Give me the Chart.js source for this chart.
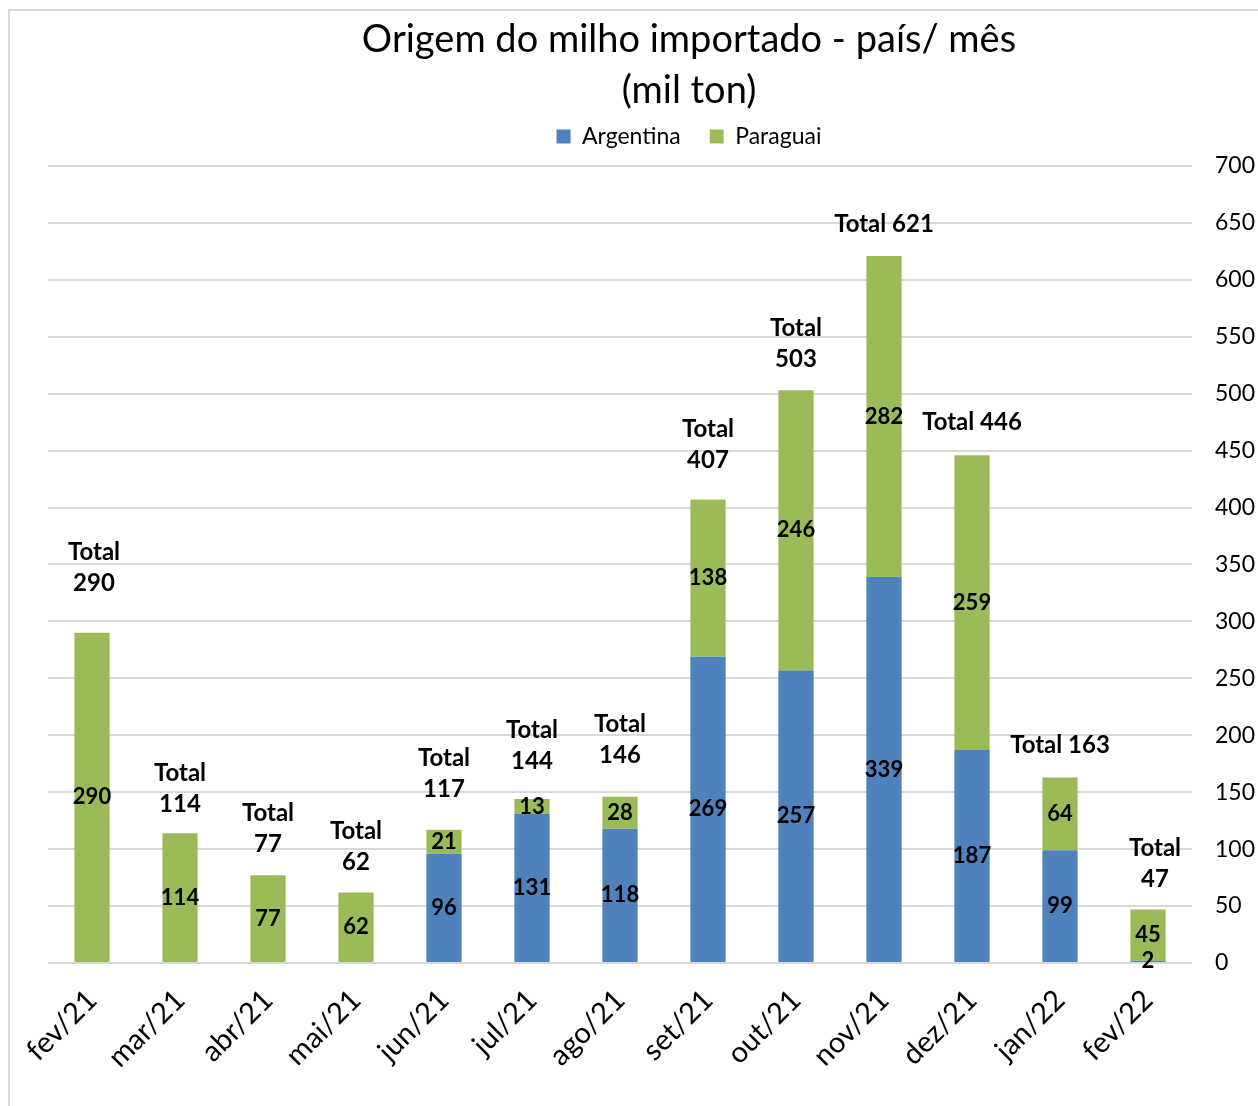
<!DOCTYPE html>
<html>
<head>
<meta charset="utf-8">
<script src="https://cdn.jsdelivr.net/npm/chart.js@4.4.0/dist/chart.umd.min.js"></script>
<style>
  html, body { margin: 0; padding: 0; background: #fff; overflow: hidden; width: 1258px; height: 1106px; }
  #frame { position: absolute; left: 8px; top: 9px; width: 1358px; height: 1200px; border: 2px solid #d9d9d9; }
  #chart { display: block; }
</style>
</head>
<body>
<div id="frame"><canvas id="chart" width="1358" height="1120"></canvas></div>
<script>
const months = ["fev/21", "mar/21", "abr/21", "mai/21", "jun/21", "jul/21", "ago/21", "set/21", "out/21", "nov/21", "dez/21", "jan/22", "fev/22"];
const argentina = [0, 0, 0, 0, 96, 131, 118, 269, 257, 339, 187, 99, 2];
const paraguai = [290, 114, 77, 62, 21, 13, 28, 138, 246, 282, 259, 64, 45];
const yTicks = [0, 50, 100, 150, 200, 250, 300, 350, 400, 450, 500, 550, 600, 650, 700];

const FONT = "Lato, 'Liberation Sans', sans-serif";
Chart.defaults.font.family = FONT;
Chart.defaults.color = "#000";

// where the "Total" labels sit: gap above the bar (px), one or two lines, x nudge
const totalStyle = {
  gap: [50, 29, 31, 30, 41, 38, 42, 39, 31, 32, 33, 32, 30],
  oneLine: [false, false, false, false, false, false, false, false, false, true, true, true, false],
  dx: [2, 0, 0, 0, 0, 0, 0, 0, 0, 0, 0, 0, 7],
  lineGap: 31
};

const labelsPlugin = {
  id: "barLabels",
  afterDatasetsDraw(chart) {
    const ctx = chart.ctx;
    const y = chart.scales.y;
    ctx.save();
    ctx.fillStyle = "#000";
    ctx.textAlign = "center";
    ctx.textBaseline = "middle";
    ctx.font = "bold 22px " + FONT;
    chart.data.datasets.forEach((ds, di) => {
      const meta = chart.getDatasetMeta(di);
      meta.data.forEach((bar, i) => {
        const v = ds.data[i];
        if (!v) return;
        ctx.fillText(String(v), bar.x, (bar.y + bar.base) / 2);
      });
    });
    ctx.font = "bold 24px " + FONT;
    const xMeta = chart.getDatasetMeta(0);
    months.forEach((m, i) => {
      const total = argentina[i] + paraguai[i];
      const top = y.getPixelForValue(total);
      const cx = xMeta.data[i].x + totalStyle.dx[i];
      const cy = top - totalStyle.gap[i];
      if (totalStyle.oneLine[i]) {
        ctx.fillText("Total " + total, cx, cy);
      } else {
        ctx.fillText(String(total), cx, cy);
        ctx.fillText("Total", cx, cy - totalStyle.lineGap);
      }
    });
    ctx.restore();
  }
};

// empty strip between legend and plot area
const legendGap = {
  id: "legendGap",
  beforeInit(chart) {
    Chart.layouts.addBox(chart, {
      position: "top", weight: 500, fullSize: true, options: {},
      top: 0, left: 0, right: 0, bottom: 0, width: 0, height: 0,
      isHorizontal() { return true; },
      update(maxWidth) { this.width = maxWidth; this.height = 8; },
      draw() {}
    });
  }
};

new Chart(document.getElementById("chart"), {
  type: "bar",
  data: {
    labels: months,
    datasets: [
      { label: "Argentina", data: argentina, backgroundColor: "#4f81bd", barPercentage: 0.4, categoryPercentage: 1 },
      { label: "Paraguai", data: paraguai, backgroundColor: "#9bbb59", barPercentage: 0.4, categoryPercentage: 1 }
    ]
  },
  options: {
    responsive: false,
    animation: false,
    layout: { padding: { left: 38, right: 38, top: 0, bottom: 0 } },
    plugins: {
      title: {
        display: true,
        text: ["Origem do milho importado - país/ mês", "(mil ton)"],
        font: { size: 38, weight: "normal", lineHeight: 1.342 },
        color: "#000",
        padding: { top: 3, bottom: -20 }
      },
      legend: {
        position: "top",
        labels: { boxWidth: 14, boxHeight: 14, font: { size: 23 }, color: "#000", padding: 29 }
      },
      tooltip: { enabled: false }
    },
    scales: {
      x: {
        stacked: true,
        grid: { display: false },
        border: { display: false },
        ticks: { font: { size: 29 }, color: "#000", maxRotation: 45, minRotation: 45, padding: 12 },
        afterFit(scale) { scale.height = 168; }
      },
      y: {
        stacked: true,
        position: "right",
        min: 0,
        max: 700,
        afterBuildTicks(scale) { scale.ticks = yTicks.map(v => ({ value: v })); },
        grid: { color: "#d9d9d9", lineWidth: 2, drawTicks: false },
        border: { display: false },
        ticks: { font: { size: 23 }, color: "#000", padding: 23 },
        afterFit(scale) { scale.width = 138; }
      }
    }
  },
  plugins: [labelsPlugin, legendGap]
});
</script>
</body>
</html>
